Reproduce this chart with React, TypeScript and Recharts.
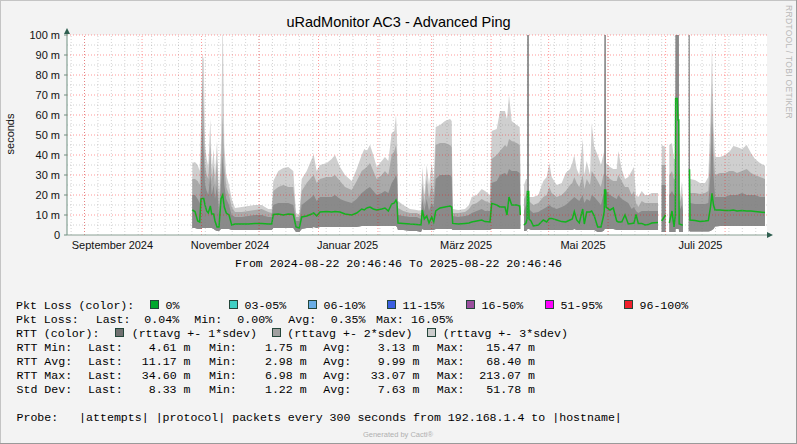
import React from "react";
import { ComposedChart, Area, Line, XAxis, YAxis, ReferenceLine } from "recharts";

// Day offsets since 2024-08-22 20:46:46 (graph start)
const DAY = [
  65.33, 66.74, 68.15, 69.19, 69.87, 70.55, 71.28, 71.96, 72.84, 73.68,
  74.72, 75.45, 76.49, 77.17, 78.21, 79.26, 80.3, 81.19, 82.02, 83.06,
  84.47, 85.88, 87.6, 91.09, 94.54, 98.03, 101.52, 104.96, 106.74, 107.57,
  110.18, 112.79, 115.39, 118.0, 119.41, 121.13, 122.38, 124.99, 127.59, 128.64,
  130.2, 131.92, 135.42, 138.02, 139.74, 142.35, 144.96, 148.45, 151.06, 153.67,
  155.02, 156.27, 157.99, 159.71, 161.49, 164.09, 165.81, 167.54, 169.31, 170.67,
  171.55, 172.07, 172.59, 175.36, 178.85, 182.34, 184.59, 185.26, 186.31, 187.56,
  188.76, 190.17, 191.21, 192.25, 194.49, 197.1, 199.71, 200.59, 201.12, 204.04,
  207.53, 209.61, 211.02, 213.63, 216.24, 217.96, 220.56, 221.45, 224.06, 225.78,
  228.39, 229.43, 230.47, 231.88, 234.49, 236.05, 236.36, 237.25, 238.29, 239.34,
  239.9, 240.05, 240.75, 240.9, 241.94, 243.14, 245.75, 248.36, 250.13, 251.49,
  252.74, 255.34, 257.95, 260.04, 262.28, 263.48, 264.52, 265.77, 267.13, 268.9,
  269.74, 270.99, 272.71, 273.59, 274.95, 276.72, 278.44, 279.64, 280.15, 280.3,
  280.9, 281.05, 283.14, 284.86, 286.63, 287.46, 289.24, 290.96, 292.68, 294.45,
  295.65, 296.69, 297.89, 299.67, 301.39, 303.11, 304.88, 308.17, 309.21, 310.09,
  312.08, 312.86, 314.06, 315.47, 316.51, 317.2, 317.35, 318.2, 318.6, 319.0,
  319.2, 320.68, 321.2, 322.77, 324.2, 324.6, 324.85, 327.46, 330.07, 332.67,
  334.39, 335.54, 336.32, 337.1, 337.89, 340.49, 343.1, 345.71, 347.43, 349.36,
  351.97, 354.41, 356.66, 358.74, 361.35, 363.96,
];

// RTT average (ms)
const RTT_AVG = [
  12.5, 11.7, 7, 6.5, 18, 18.3, 18.3, 15, 12, 11,
  14.5, 10.5, 10.5, 7, 4, 4, 18, 20, 14, 11,
  10, 5, 5.5, 5.5, 5.5, 5.8, 5.8, 5.5, 5.5, 10.3,
  10.5, 10, 10.5, 10.3, 4, 3.5, 9, 9.5, 10.5, 11,
  9.5, 11.5, 11.7, 11.5, 11.7, 11.5, 10.5, 10, 11, 13,
  12.5, 13.5, 14, 13, 12.5, 13, 13.5, 12, 15.5, 16,
  17.5, 16, 6, 5.8, 5.5, 5.3, 5, 12.5, 8, 9.5,
  6, 9, 6.5, 12, 13.5, 14, 14.5, 14, 5.8, 5.5,
  5.8, 6, 6.5, 7, 7.5, 6.7, 6.5, 15.8, 15, 14,
  14, 10, 19, 15, 15, 14.5, 10, null, 5, 6,
  8, 21.7, 21.7, 8, 7, 4.5, 5, 7.5, 6.5, 8.3,
  8.3, 7.5, 6.7, 6.5, 7.5, 8, 11.7, 7.5, 6, 13,
  5.5, 11.5, 11.5, 12, 9.5, 4, 4, 9, 12, 22.5,
  22.5, 14, 12.5, 13.5, 7, 6.5, 6.5, 10, 5.5, 5.8,
  6, 10.3, 5.8, 5.8, 5, 5.2, 6, 6.2, null, 7,
  10, null, 6, 12, 4, 10, 68.3, 68.3, 57.5, 57.5,
  5.5, 5, 5, null, 32.5, 32.5, 7.5, 7.2, 6.8, 7,
  7.2, 14, 20.8, 15, 12.5, 12.5, 12.3, 12.3, 12.5, 12,
  12.3, 12, 12, 11.8, 11.5, 11.2,
];

// lower edge of the smoke bands (ms)
const RTT_LO = [
  3.5, 3.5, 3, 3, 3, 3.5, 3.5, 3.5, 3.5, 3.5,
  3.5, 3.5, 3, 2.5, 2, 2, 3, 3, 3, 3,
  3, 2.5, 2.5, 2.5, 2.5, 2.5, 2.5, 2.5, 2.5, 3.5,
  3.5, 3.5, 3.5, 3.5, 1.5, 1.5, 3, 3.5, 3.5, 4,
  3.5, 4, 4, 4, 4, 4, 4, 4, 4, 4.5,
  4.5, 4.5, 4.5, 4.5, 4.5, 4.5, 4.5, 4.5, 4.5, 4.5,
  4.5, 4, 2.5, 2.5, 2, 2, 1.5, 3, 2.5, 2.5,
  2.5, 2.5, 2.5, 3, 3, 3, 3, 3, 2.5, 2.5,
  2.5, 2.5, 2.5, 2.5, 2.5, 2.5, 2.5, 3, 3, 3,
  3, 3, 3, 3, 3, 3, 3, null, 2, 2,
  2.5, 3, 3, 3, 2.5, 2.5, 2.5, 2.5, 2.5, 2.5,
  2.5, 2.5, 2.5, 2.5, 2.5, 2.5, 3, 2.5, 2.5, 2.5,
  2.5, 2.5, 2.5, 2.5, 2.5, 1.5, 1.5, 2, 2.5, 3,
  3, 3, 3, 3, 2.5, 2.5, 2.5, 2.5, 2.5, 2.5,
  2.5, 2.5, 2.5, 2.5, 2.5, 2.5, 2.5, 2.5, null, 1.5,
  1.5, null, 1.5, 1.5, 1.5, 1.5, 3, 3, 3, 3,
  1.5, 1.5, 1.5, null, 2, 2, 1.7, 1.7, 1.7, 1.7,
  1.7, 2, 2.5, 3, 4.2, 4.5, 4.5, 4.5, 4.5, 4.5,
  4.5, 4.5, 4.5, 4.5, 4.5, 4.5,
];

// rttavg + 1*sdev (ms)
const SDEV1_HI = [
  20, 20, 18, 16, 25, 55, 40, 25, 22, 20,
  30, 20, 25, 18, 25, 10, 25, 40, 25, 18,
  15, 10, 9, 9, 9.5, 10, 10, 9, 9, 15,
  16, 16, 16, 15, 7, 7, 15, 17, 19, 20,
  17, 19, 19, 19, 20, 18, 17, 16, 18, 21,
  22, 23, 24, 22, 20, 21, 22, 21, 26, 28,
  30, 28, 10, 9.5, 9, 9, 8, 18, 12, 18,
  12, 16, 14, 28, 30, 30, 30, 29, 9.5, 9,
  9.5, 10, 11, 12, 13, 12, 12, 26, 27, 30,
  31, 30, 33, 32, 32, 31, 20, null, 12, 15,
  16, 110, 110, 13, 12, 11, 11.5, 13, 14, 15,
  14, 13, 14, 15, 17, 18, 19, 18, 17, 20,
  16, 18, 17, 20, 19, 17, 15, 20, 21, 110,
  110, 22, 20, 19, 18, 20, 18, 17, 16, 13,
  14, 12, 11, 12, 12, 12, 12, 12, null, 25,
  25, null, 20, 22, 20, 20, 110, 110, 110, 110,
  12, 15, 12, null, 110, 110, 16, 15.5, 15.5, 15.5,
  16, 30, 57, 30, 19, 19, 19, 20, 20, 20,
  21, 20, 20, 20, 19, 19,
];

// rttavg + 2*sdev (ms)
const SDEV2_HI = [
  28, 28, 27, 25, 40, 80, 60, 35, 30, 28,
  45, 27, 35, 24, 38, 15, 35, 60, 35, 24,
  20, 14, 11.5, 11.5, 12, 12.5, 13, 11.5, 11, 22,
  24, 25, 24, 24, 9, 9, 22, 26, 29, 30,
  26, 28, 29, 29, 30, 27, 24, 22.5, 27, 32,
  33, 34, 36, 32, 28, 30, 32, 30, 40, 42,
  45, 40, 13.5, 12, 11, 11, 10, 26, 16, 28,
  18, 26, 20, 45, 46, 46, 45, 44, 11, 11,
  11.5, 13, 15, 16, 18, 17, 16, 38, 40, 42,
  45, 44, 48, 47, 46, 45, 30, null, 18, 20,
  22, 110, 110, 17, 16, 15, 16, 19, 20, 24,
  21, 19, 20, 22, 25, 26, 29, 26, 24, 30,
  23, 28, 25, 32, 30, 27, 24, 30, 31, 110,
  110, 30, 28, 27, 27, 30, 27, 24, 24, 20,
  22, 16, 14, 17, 16, 16, 16, 16, null, 35,
  35, null, 30, 32, 28, 28, 110, 110, 110, 110,
  15, 20, 15, null, 110, 110, 21, 21, 20.5, 21,
  22, 45, 75, 42, 30, 31, 31, 32, 32, 31,
  32, 33, 31, 30, 29, 28,
];

// rttavg + 3*sdev (ms)
const SDEV3_HI = [
  36, 36.5, 35, 32, 55, 90, 88, 45, 38, 34,
  58, 33, 43, 30, 47, 20, 45, 110, 45, 30,
  25, 18, 13.5, 14, 14.5, 15, 15, 13, 13, 27,
  32, 33.5, 34, 32, 11, 10, 28, 32, 38, 40,
  32, 35, 36, 38, 40, 34, 30, 27, 33, 40,
  43, 42, 45, 40, 34, 37, 39, 37, 51, 52,
  60, 50, 17, 15, 13, 12.5, 12, 34, 20, 35,
  25, 36, 28, 54, 55, 57, 58, 57, 13, 12.5,
  13, 15, 19, 20, 23, 22, 20, 52, 53, 62,
  62, 58, 70, 57, 55, 54, 40, null, 25, 28,
  28, 110, 110, 19, 19, 19, 20, 27, 29, 36,
  29, 25, 26, 31, 33, 36, 40, 33, 30, 48,
  30, 37, 30, 56, 44, 40, 35, 40, 42, 110,
  110, 36, 34, 33, 33, 42, 33, 28, 29, 32,
  34, 20, 19, 22, 20, 20, 21, 21, null, 45,
  44, null, 45, 46, 38, 38, 110, 110, 110, 110,
  16, 26.7, 18, null, 110, 110, 28, 27.5, 26, 26,
  29, 60, 95, 55, 39, 39, 40, 42, 44.5, 44,
  43, 45, 41, 38, 36, 34.6,
];

const Y_TICKS = [0, 10, 20, 30, 40, 50, 60, 70, 80, 90, 100];
const Y_MINOR = [5, 15, 25, 35, 45, 55, 65, 75, 85, 95];
const MONTH_LABELS = ["September 2024", "November 2024", "Januar 2025", "März 2025", "Mai 2025", "Juli 2025"];
const MONTH_LABEL_DAYS = [23.7, 85.0, 146.3, 208.1, 269.1, 330.3];
// first day of every month (major grid)
const MONTH_START_DAYS = [9.135, 39.135, 70.135, 100.135, 131.135, 162.135, 190.135, 221.135, 251.135, 282.135, 312.135, 343.135];
// Sundays (minor grid)
const WEEK_DAYS: number[] = [];
for (let d = 2.135; d < 365; d += 7) WEEK_DAYS.push(d);

const LOSS_LEGEND = [
  { label: "0%", color: "#00a82d" },
  { label: "03-05%", color: "#3fd0c4" },
  { label: "06-10%", color: "#6aaee6" },
  { label: "11-15%", color: "#3b5fe0" },
  { label: "16-50%", color: "#9b4f9e" },
  { label: "51-95%", color: "#ff00ff" },
  { label: "96-100%", color: "#f0202c" },
];

const STATS_ROWS = [
  { name: "RTT Min:", last: "4.61 m", min: "1.75 m", avg: "3.13 m", max: "15.47 m" },
  { name: "RTT Avg:", last: "11.17 m", min: "2.98 m", avg: "9.99 m", max: "68.40 m" },
  { name: "RTT Max:", last: "34.60 m", min: "6.98 m", avg: "33.07 m", max: "213.07 m" },
  { name: "Std Dev:", last: "8.33 m", min: "1.22 m", avg: "7.63 m", max: "51.78 m" },
];

const C_DARK = "#8a8a8a";
const C_MID = "#aaaaaa";
const C_LIGHT = "#cfcfcf";

const data = DAY.map((day, i) => ({
  day,
  avg: RTT_AVG[i],
  lo: RTT_LO[i],
  s1: SDEV1_HI[i],
  s2: SDEV2_HI[i],
  s3: SDEV3_HI[i],
}));

const band = (k: "s1" | "s2" | "s3") => (p: any) => (p[k] == null || p.lo == null ? null : [p.lo, p[k]]);

const SANS = "'Liberation Sans', Arial, sans-serif";
const MONO = "'Liberation Mono', 'Courier New', monospace";

export default function App() {
  const rowY = [308.5, 322.5, 336.5];
  const statY = [350.5, 364.5, 378.5, 392.5];
  return (
    <div style={{ position: "absolute", left: 0, top: 0, width: 797, height: 444, background: "#f3f3f3", overflow: "hidden" }}>
      <div style={{ position: "absolute", left: 67, top: 35, width: 700, height: 200, background: "#ffffff" }} />
      <div style={{ position: "absolute", left: 0, top: 0 }}>
        <ComposedChart width={797} height={444} data={data} margin={{ top: 35, right: 30, bottom: 189, left: 7 }}>
          <XAxis
            dataKey="day"
            type="number"
            domain={[0, 365]}
            allowDataOverflow
            ticks={MONTH_LABEL_DAYS}
            interval={0}
            tickFormatter={(v: number) => MONTH_LABELS[MONTH_LABEL_DAYS.indexOf(v)] ?? ""}
            tickLine={false}
            tickSize={0}
            tickMargin={6}
            height={20}
            axisLine={{ stroke: "#8aa094" }}
            tick={{ fontSize: 11, fill: "#111", fontFamily: SANS }}
          />
          <YAxis
            type="number"
            domain={[0, 100]}
            allowDataOverflow
            ticks={Y_TICKS}
            interval={0}
            width={60}
            tickSize={3}
            tickMargin={4}
            tickFormatter={(v: number) => (v === 0 ? "0" : `${v} m`)}
            axisLine={{ stroke: "#6f8f80" }}
            tickLine={{ stroke: "#6f8f80" }}
            tick={{ fontSize: 11, fill: "#111", fontFamily: SANS }}
          />
          <Area type="linear" dataKey={band("s3")} fill={C_LIGHT} fillOpacity={1} stroke="none" isAnimationActive={false} connectNulls={false} activeDot={false} />
          <Area type="linear" dataKey={band("s2")} fill={C_MID} fillOpacity={1} stroke="none" isAnimationActive={false} connectNulls={false} activeDot={false} />
          <Area type="linear" dataKey={band("s1")} fill={C_DARK} fillOpacity={1} stroke="none" isAnimationActive={false} connectNulls={false} activeDot={false} />
          <Line type="linear" dataKey="avg" stroke="#12b31e" strokeWidth={1.5} dot={false} activeDot={false} isAnimationActive={false} connectNulls={false} />
          {WEEK_DAYS.map((d) => (
            <ReferenceLine key={"w" + d} x={d} stroke="#808080" strokeOpacity={0.35} strokeDasharray="1 2" />
          ))}
          {Y_MINOR.map((v) => (
            <ReferenceLine key={"ym" + v} y={v} stroke="#808080" strokeOpacity={0.35} strokeDasharray="1 2" />
          ))}
          {MONTH_START_DAYS.map((d) => (
            <ReferenceLine key={"m" + d} x={d} stroke="#ff0000" strokeOpacity={0.4} strokeDasharray="1 2" />
          ))}
          {Y_TICKS.filter((v) => v > 0).map((v) => (
            <ReferenceLine key={"yM" + v} y={v} stroke="#ff0000" strokeOpacity={0.4} strokeDasharray="1 2" />
          ))}
        </ComposedChart>
      </div>
      <svg width={797} height={444} style={{ position: "absolute", left: 0, top: 0, pointerEvents: "none" }}>
        <rect x={0.5} y={0.5} width={796} height={443} fill="none" stroke="#c4c4c4" />
        <line x1={0} y1={443.5} x2={797} y2={443.5} stroke="#9a9a9a" />
        <line x1={796.5} y1={0} x2={796.5} y2={444} stroke="#9a9a9a" />
        <line x1={67} y1={35} x2={67} y2={31} stroke="#6f8f80" />
        <polygon points="64,34 70,34 67,28" fill="#2f5f50" />
        <polygon points="767,232 767,238 773,235" fill="#2f5f50" />
        <text x={398.5} y={27} textAnchor="middle" fontFamily={SANS} fontSize={14.5} fill="#000">
          uRadMonitor AC3 - Advanced Ping
        </text>
        <text transform="translate(14,134) rotate(-90)" textAnchor="middle" fontFamily={SANS} fontSize={11} fill="#111">
          seconds
        </text>
        <text transform="translate(785.5,5) rotate(90)" fontFamily={SANS} fontSize={8.5} fill="#b9b9b9" letterSpacing={0.3}>
          RRDTOOL / TOBI OETIKER
        </text>
        <text x={398.5} y={266.7} textAnchor="middle" fontFamily={MONO} fontSize={11.6} fill="#000" style={{ whiteSpace: "pre" }}>
          From 2024-08-22 20:46:46 To 2025-08-22 20:46:46
        </text>
        <g fontFamily={MONO} fontSize={11.6} fill="#000">
          <text x={16} y={rowY[0]}>Pkt Loss (color):</text>
          {LOSS_LEGEND.map((it, i) => (
            <g key={it.label}>
              <rect x={150.5 + i * 79} y={300.5} width={8} height={8} fill={it.color} stroke="#24463a" />
              <text x={165.5 + i * 79} y={rowY[0]}>{it.label}</text>
            </g>
          ))}
          <text x={16} y={rowY[1]}>Pkt Loss:</text>
          <text x={95.7} y={rowY[1]}>Last:</text>
          <text x={144.3} y={rowY[1]}>0.04%</text>
          <text x={194.3} y={rowY[1]}>Min:</text>
          <text x={237.3} y={rowY[1]}>0.00%</text>
          <text x={288.3} y={rowY[1]}>Avg:</text>
          <text x={330.7} y={rowY[1]}>0.35%</text>
          <text x={376} y={rowY[1]}>Max:</text>
          <text x={411} y={rowY[1]}>16.05%</text>
          <text x={16} y={rowY[2]}>RTT (color):</text>
          <rect x={115.5} y={328.5} width={8} height={8} fill="#707070" stroke="#24463a" />
          <text x={131.7} y={rowY[2]}>(rttavg +- 1*sdev)</text>
          <rect x={272.5} y={328.5} width={8} height={8} fill="#a0a0a0" stroke="#24463a" />
          <text x={287.3} y={rowY[2]}>(rttavg +- 2*sdev)</text>
          <rect x={427.5} y={328.5} width={8} height={8} fill="#cccccc" stroke="#24463a" />
          <text x={442.7} y={rowY[2]}>(rttavg +- 3*sdev)</text>
          {STATS_ROWS.map((r, i) => (
            <g key={r.name}>
              <text x={16.5} y={statY[i]}>{r.name}</text>
              <text x={88} y={statY[i]}>Last:</text>
              <text x={190.5} y={statY[i]} textAnchor="end">{r.last}</text>
              <text x={209} y={statY[i]}>Min:</text>
              <text x={306.7} y={statY[i]} textAnchor="end">{r.min}</text>
              <text x={323.3} y={statY[i]}>Avg:</text>
              <text x={419.5} y={statY[i]} textAnchor="end">{r.avg}</text>
              <text x={436.7} y={statY[i]}>Max:</text>
              <text x={535} y={statY[i]} textAnchor="end">{r.max}</text>
            </g>
          ))}
          <text x={16.5} y={420.5} style={{ whiteSpace: "pre" }}>
            {"Probe:   |attempts| |protocol| packets every 300 seconds from 192.168.1.4 to |hostname|"}
          </text>
        </g>
        <text x={398} y={437} textAnchor="middle" fontFamily={SANS} fontSize={7.5} fill="#b0b0b0">
          Generated by Cacti®
        </text>
      </svg>
    </div>
  );
}
